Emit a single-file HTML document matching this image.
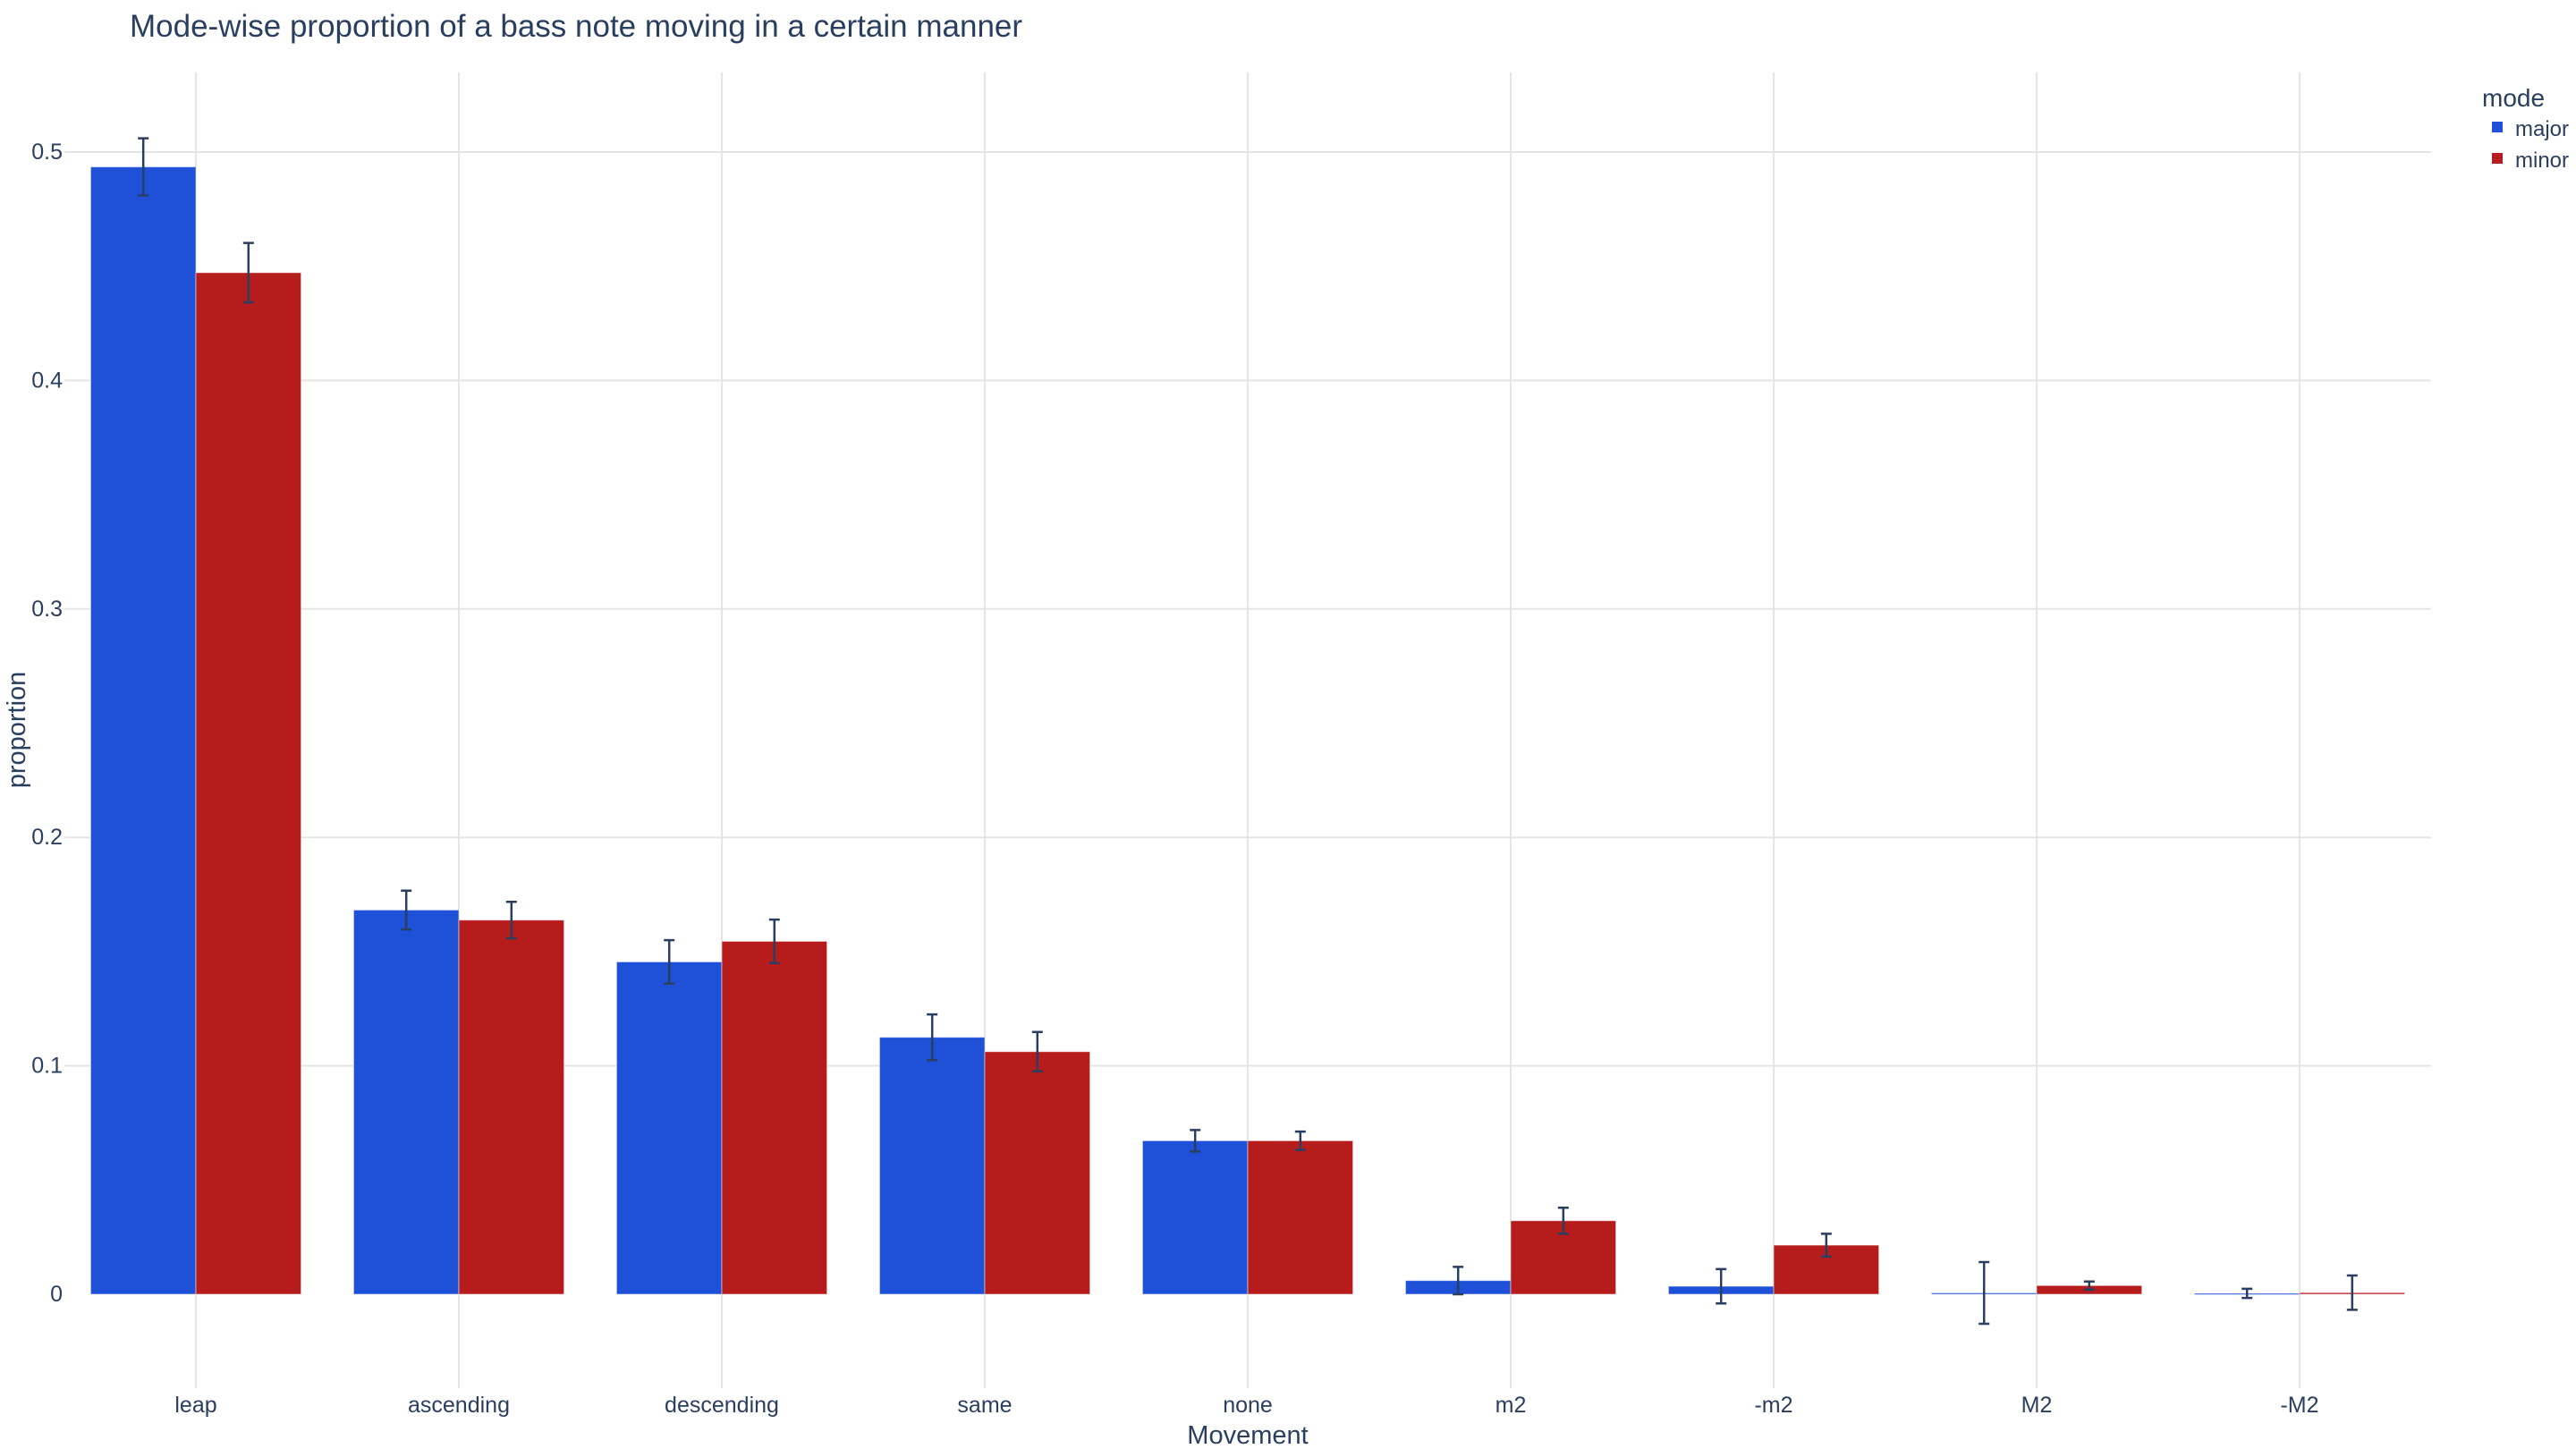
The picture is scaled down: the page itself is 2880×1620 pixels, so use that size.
<!DOCTYPE html>
<html><head><meta charset="utf-8"><style>
html,body{margin:0;padding:0;background:#fff;}
svg{display:block;font-family:"Liberation Sans",sans-serif;}
</style></head><body>
<svg id="chart" width="2880" height="1620" viewBox="0 0 2880 1620" xmlns="http://www.w3.org/2000/svg">
<text x="145" y="41" font-size="35" fill="#2a3f5f">Mode-wise proportion of a bass note moving in a certain manner</text>
<g id="grid"></g><g id="bars"></g><g id="errs"></g><g id="ticks"></g>
<text x="1395" y="1614" font-size="29" fill="#2a3f5f" text-anchor="middle">Movement</text>
<text transform="translate(28,816) rotate(-90)" font-size="29" fill="#2a3f5f" text-anchor="middle">proportion</text>
<g>
<text x="2775" y="119" font-size="28" fill="#2a3f5f">mode</text>
<g><rect x="2786" y="136" width="12" height="12" fill="#1E50D8"/><text x="2812" y="152" font-size="24" fill="#2a3f5f">major</text></g>
<g><rect x="2786" y="171" width="12" height="12" fill="#B71C1C"/><text x="2812" y="187" font-size="24" fill="#2a3f5f">minor</text></g>
</g>
</svg>
<script>
const categories=["leap","ascending","descending","same","none","m2","-m2","M2","-M2"];
const majorValues=[0.4935,0.1682,0.1455,0.1125,0.0672,0.006,0.0035,0.0006,0.0004];
const majorErrors=[0.0125,0.0085,0.0095,0.010,0.0047,0.006,0.0075,0.0135,0.002];
const minorValues=[0.4472,0.1638,0.1545,0.1062,0.0672,0.0322,0.0215,0.0038,0.0007];
const minorErrors=[0.013,0.008,0.0095,0.0086,0.004,0.0057,0.005,0.0018,0.0075];
const yTicks=[0,0.1,0.2,0.3,0.4,0.5];
const yTickLabels=["0","0.1","0.2","0.3","0.4","0.5"];

const NS="http://www.w3.org/2000/svg";
const L=72,R=2718,T=81,B=1552,Y0=1447,PPU=2554;
const step=(R-L)/categories.length;
const xC=i=>L+step*(i+0.5);
const yS=v=>Y0-v*PPU;
function mk(tag,attrs,parent){const e=document.createElementNS(NS,tag);for(const k in attrs)e.setAttribute(k,attrs[k]);document.getElementById(parent).appendChild(e);return e;}
yTicks.forEach((t,i)=>{
  if(t!==0){const g=mk('line',{x1:L,x2:R,y1:yS(t),y2:yS(t),stroke:'#e5e5e5','stroke-width':2},'grid');
  
  }
  const tx=mk('text',{x:70,y:yS(t)+8,'font-size':25,fill:'#2a3f5f','text-anchor':'end'},'ticks');
  tx.textContent=yTickLabels[i];
  
  
});
categories.forEach((c,i)=>{
  const g=mk('line',{x1:xC(i),x2:xC(i),y1:T,y2:B,stroke:'#e5e5e5','stroke-width':2},'grid');
  
  
  const tx=mk('text',{x:xC(i),y:1579,'font-size':25,fill:'#2a3f5f','text-anchor':'middle'},'ticks');
  tx.textContent=c;
  
  
});
const bw=step*0.8/2;
function series(vals,errs,color,off,name){
  vals.forEach((v,i)=>{
    const x=xC(i)+off*bw;
    const top=Math.min(yS(v),Y0),h=Math.max(Math.abs(yS(v)-Y0),1.5);
    const r=mk('rect',{x:x,y:top,width:bw,height:h,fill:color,stroke:'rgba(255,255,255,0.5)','stroke-width':1},'bars');
    
    
    const cx=x+bw/2,y1=yS(v+errs[i]),y2=yS(v-errs[i]);
    const e=mk('path',{d:`M${cx},${y1}V${y2}M${cx-6},${y1}H${cx+6}M${cx-6},${y2}H${cx+6}`,stroke:'#2a3f5f','stroke-width':2.5,fill:'none'},'errs');
    
    
  });
}
series(majorValues,majorErrors,'#1E50D8',-1,'major');
series(minorValues,minorErrors,'#B71C1C',0,'minor');
</script>
</body></html>
